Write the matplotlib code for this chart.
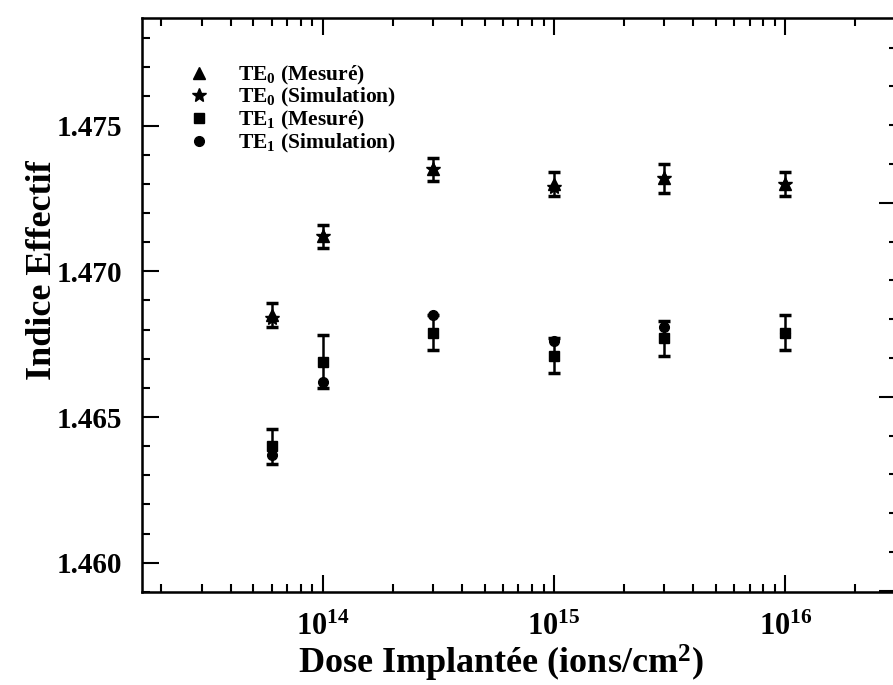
import math
import matplotlib
matplotlib.use('Agg')
import matplotlib.pyplot as plt
from matplotlib.ticker import FuncFormatter, MultipleLocator, LogLocator, NullFormatter

plt.rcParams['font.family'] = ['Liberation Serif', 'DejaVu Serif']
plt.rcParams['font.weight'] = 'bold'
plt.rcParams['mathtext.fontset'] = 'custom'
plt.rcParams['mathtext.rm'] = 'Liberation Serif:bold'
plt.rcParams['mathtext.bf'] = 'Liberation Serif:bold'
plt.rcParams['mathtext.it'] = 'Liberation Serif:bold:italic'

# doses (ions/cm2)
dose = [6e13, 1e14, 3e14, 1e15, 3e15, 1e16]

# TE0
te0_mes = [1.4685, 1.4712, 1.4735, 1.4730, 1.4732, 1.4730]
te0_err = [0.0004, 0.0004, 0.0004, 0.0004, 0.0005, 0.0004]
te0_sim = [1.4684, 1.4712, 1.4735, 1.4729, 1.4732, 1.4730]

# TE1
te1_mes = [1.4640, 1.4669, 1.4679, 1.4671, 1.4677, 1.4679]
te1_err = [0.0006, 0.0009, 0.0006, 0.0006, 0.0006, 0.0006]
te1_sim = [1.4637, 1.4662, 1.4685, 1.4676, 1.4681, 1.4679]

fig = plt.figure(figsize=(8.93, 6.85), dpi=100)
ax = fig.add_axes([0.159, 0.136, 0.844, 0.838])

eb = dict(fmt='none', ecolor='black', elinewidth=1.8, capsize=4.5, capthick=2.5)
ax.errorbar(dose, te0_mes, yerr=te0_err, **eb)
ax.errorbar(dose, te1_mes, yerr=te1_err, **eb)

ax.plot(dose, te0_mes, '^', color='black', ms=8, ls='none', label=r'TE$_0$ (Mesuré)')
ax.plot(dose, te0_sim, '*', color='black', ms=10, ls='none', label=r'TE$_0$ (Simulation)')
ax.plot(dose, te1_mes, 's', color='black', ms=7, ls='none', label=r'TE$_1$ (Mesuré)')
ax.plot(dose, te1_sim, 'o', color='black', ms=7, ls='none', label=r'TE$_1$ (Simulation)')

ax.set_xscale('log')
ax.set_xlim(1.65e13, 3.0e16)
ax.set_ylim(1.459, 1.4787)

ax.xaxis.set_major_locator(LogLocator(base=10, numticks=10))
ax.xaxis.set_minor_locator(LogLocator(base=10, subs=range(2, 10), numticks=20))
ax.xaxis.set_minor_formatter(NullFormatter())
ax.xaxis.set_major_formatter(FuncFormatter(lambda v, p: r'$\mathbf{10^{%d}}$' % round(math.log10(v))))
ax.yaxis.set_major_locator(MultipleLocator(0.005))
ax.yaxis.set_minor_locator(MultipleLocator(0.001))
ax.yaxis.set_major_formatter(FuncFormatter(lambda v, p: '%.3f' % v))

ax.tick_params(which='both', direction='in', top=True, right=False, width=1.5)
ax.tick_params(which='major', length=12, labelsize=21, pad=14)
ax.tick_params(which='minor', length=6)
ax.tick_params(axis='x', which='major', labelsize=22, pad=15)
for s in ax.spines.values():
    s.set_linewidth(1.8)

# right-hand axis (scale of the second axis, labels cut off)
ax2 = ax.twinx()
ax2.set_ylim(0.995, 3.954)
ax2.yaxis.set_major_locator(MultipleLocator(1))
ax2.yaxis.set_minor_locator(MultipleLocator(0.2))
ax2.tick_params(which='both', direction='in', labelright=False, width=1.5)
ax2.tick_params(which='major', length=12)
ax2.tick_params(which='minor', length=5)

ax.set_xlabel(r'Dose Implantée (ions/cm$^2$)', fontsize=26, fontweight='bold')
ax.xaxis.set_label_coords(0.476, -0.089)
ax.set_ylabel('Indice Effectif', fontsize=26, fontweight='bold')
ax.yaxis.set_label_coords(-0.11, 0.56)

ax.legend(loc='upper left', bbox_to_anchor=(0.05, 0.935), frameon=False, fontsize=15.5,
          handletextpad=1.3, labelspacing=-0.02, handlelength=1.0, borderaxespad=0)

fig.savefig('out.png', dpi=100)
